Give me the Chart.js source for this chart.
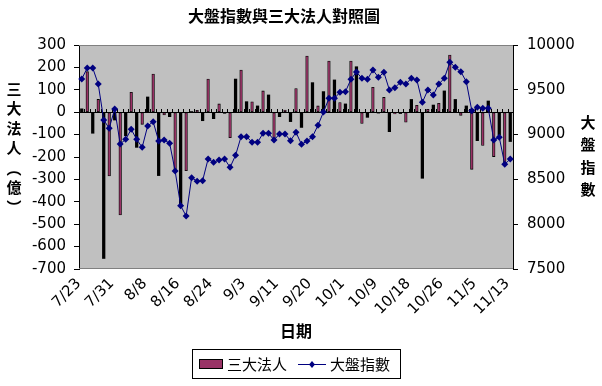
<!DOCTYPE html>
<html><head><meta charset="utf-8">
<script src="https://cdn.jsdelivr.net/npm/chart.js@4.4.1/dist/chart.umd.min.js"></script>
<style>html,body{margin:0;padding:0;background:#fff}#wrap{width:602px;height:386px;position:relative}canvas{display:block}</style>
</head><body><div id="wrap"><canvas id="c" width="602" height="386"></canvas></div>
<script>
// ---- data ----
const dates = ['7/23','7/24','7/25','7/26','7/27','7/30','7/31',
  '8/1','8/2','8/3','8/6','8/7','8/8','8/9','8/10','8/13','8/14','8/15','8/16','8/17','8/20','8/21','8/22','8/23','8/24','8/27','8/28','8/29','8/30','8/31',
  '9/3','9/4','9/5','9/6','9/7','9/10','9/11','9/12','9/13','9/14','9/17','9/19','9/20','9/21','9/24','9/26','9/27','9/28',
  '10/1','10/2','10/3','10/4','10/5','10/8','10/9','10/11','10/12','10/15','10/16','10/17','10/18','10/19','10/22','10/23','10/24','10/25','10/26','10/29','10/30','10/31',
  '11/1','11/2','11/5','11/6','11/7','11/8','11/9','11/12','11/13'];
const institutional = [15,181,-94,57,-653,-285,-35,-459,-105,89,
  -157,-54,68,170,-283,-12,-20,-258,-422,-261,
  3,8,-38,148,-29,37,-5,-114,148,188,
  47,46,28,95,77,-124,-20,10,-42,106,
  -68,251,132,28,92,228,144,43,37,228,
  203,-50,-23,111,-4,66,-87,-8,-6,-45,
  57,31,-295,13,32,40,95,255,57,-14,
  28,-255,-127,-148,50,-198,-102,-231,-131];
const taiex = [9621,9743,9743,9565,9163,9070,9286,8895,8947,9059,
  8947,8858,9096,9144,8929,8940,8903,8594,8207,8092,
  8519,8479,8486,8728,8691,8717,8728,8635,8769,8977,
  8977,8914,8914,9014,9014,8940,9007,9007,8932,9025,
  8891,8929,8977,9103,9252,9405,9405,9472,9479,9617,
  9699,9628,9617,9721,9639,9695,9498,9524,9583,9565,
  9628,9609,9360,9498,9442,9565,9628,9807,9751,9702,
  9591,9267,9304,9293,9293,8940,8970,8668,8728];
const seriesNames = ['三大法人','大盤指數'];
const chartTitle = '大盤指數與三大法人對照圖';
const xTitle = '日期';
const leftTitleChars = ['三','大','法','人','︵','億','︶'];
const rightTitleChars = ['大','盤','指','數'];
const labelEvery = 6;

// ---- style ----
const MAROON = '#993366', NAVY = '#000080';
const TICK_FONT = {family: '"DejaVu Sans"', size: 15};

const deco = {
  id: 'deco',
  beforeDraw(chart) {
    const {ctx, chartArea: a} = chart;
    ctx.save();
    ctx.fillStyle = '#C0C0C0';
    ctx.fillRect(a.left, a.top, a.right - a.left, a.bottom - a.top);
    ctx.restore();
  },
  beforeDatasetsDraw(chart) {
    const {ctx, chartArea: a, scales} = chart;
    const y0 = Math.round(scales.y.getPixelForValue(0)) + 0.5;
    ctx.save();
    ctx.strokeStyle = '#000';
    ctx.lineWidth = 1;
    ctx.beginPath();
    ctx.moveTo(a.left, y0); ctx.lineTo(a.right, y0);
    const n = dates.length, w = (a.right - a.left) / n;
    for (let i = 0; i <= n; i++) {
      const x = Math.round(a.left + i * w) + 0.5;
      ctx.moveTo(x, y0 - 3.5); ctx.lineTo(x, y0);
    }
    ctx.stroke();
    ctx.restore();
  },
  afterDraw(chart) {
    const {ctx, chartArea: a} = chart;
    ctx.save();
    ctx.strokeStyle = '#808080';
    ctx.lineWidth = 1;
    ctx.beginPath();
    ctx.moveTo(a.left, a.top + 0.5); ctx.lineTo(a.right, a.top + 0.5);
    ctx.moveTo(a.left, a.bottom - 0.5); ctx.lineTo(a.right, a.bottom - 0.5);
    ctx.stroke();
    ctx.fillStyle = '#000';
    ctx.textAlign = 'center';
    ctx.textBaseline = 'middle';
    ctx.font = 'bold 16px "Noto Sans CJK TC"';
    ctx.fillText(chartTitle, 284, 16);
    ctx.fillText(xTitle, 296, 331);
    ctx.font = 'bold 15px "Noto Sans CJK TC"';
    leftTitleChars.forEach((ch, i) => ctx.fillText(ch, 14, 89 + i * 19.7));
    rightTitleChars.forEach((ch, i) => ctx.fillText(ch, 588, 122 + i * 22.5));
    // legend
    ctx.strokeStyle = '#000';
    ctx.strokeRect(192.5, 349.5, 208, 29);
    ctx.fillStyle = MAROON;
    ctx.fillRect(199, 359, 24, 10);
    ctx.strokeRect(199.5, 359.5, 23, 9);
    ctx.fillStyle = '#000';
    ctx.textAlign = 'left';
    ctx.font = '15px "Noto Sans CJK TC"';
    ctx.fillText(seriesNames[0], 227, 364);
    ctx.strokeStyle = NAVY;
    ctx.beginPath(); ctx.moveTo(298, 364.5); ctx.lineTo(326, 364.5); ctx.stroke();
    ctx.fillStyle = NAVY;
    ctx.beginPath(); ctx.moveTo(312, 361); ctx.lineTo(315, 364.5); ctx.lineTo(312, 368); ctx.lineTo(309, 364.5); ctx.closePath(); ctx.fill();
    ctx.fillStyle = '#000';
    ctx.fillText(seriesNames[1], 330, 364);
    ctx.restore();
  }
};

new Chart(document.getElementById('c'), {
  data: {
    labels: dates,
    datasets: [
      {type: 'bar', label: seriesNames[0], data: institutional, yAxisID: 'y', order: 1,
       backgroundColor: c => (c.dataIndex % 2 ? MAROON : '#000'),
       borderColor: '#000', borderWidth: c => (c.dataIndex % 2 ? 0.8 : 0),
       borderSkipped: false, barThickness: 2.6},
      {type: 'line', label: seriesNames[1], data: taiex, yAxisID: 'y2', order: 0,
       borderColor: NAVY, borderWidth: 1, backgroundColor: NAVY,
       pointStyle: 'rectRot', pointRadius: 3.5, pointBorderWidth: 0, tension: 0}
    ]
  },
  options: {
    responsive: false, animation: false, devicePixelRatio: 1,
    layout: {padding: {top: 45, left: 0, right: 0, bottom: 0}},
    plugins: {legend: {display: false}, title: {display: false}, tooltip: {enabled: false}},
    scales: {
      x: {
        offset: true,
        grid: {display: false},
        border: {display: false},
        ticks: {autoSkip: false, minRotation: 45, maxRotation: 45, color: '#000', font: TICK_FONT, padding: -2, labelOffset: -3,
          callback: (v, i) => (i % labelEvery === 0 ? dates[i] : '')},
        afterFit: s => { s.height = 117; }
      },
      y: {
        position: 'left', min: -700, max: 300,
        ticks: {stepSize: 100, color: '#000', font: TICK_FONT, padding: 8, callback: v => String(v)},
        grid: {drawOnChartArea: false, drawTicks: true, tickLength: 5, color: '#000'},
        border: {display: true, color: '#000'},
        afterFit: s => { s.width = 79; }
      },
      y2: {
        position: 'right', min: 7500, max: 10000,
        ticks: {stepSize: 500, color: '#000', font: TICK_FONT, padding: 9, callback: v => String(v)},
        grid: {drawOnChartArea: false, drawTicks: true, tickLength: 5, color: '#000'},
        border: {display: true, color: '#000'},
        afterFit: s => { s.width = 89; }
      }
    }
  },
  plugins: [deco]
});
</script></body></html>
